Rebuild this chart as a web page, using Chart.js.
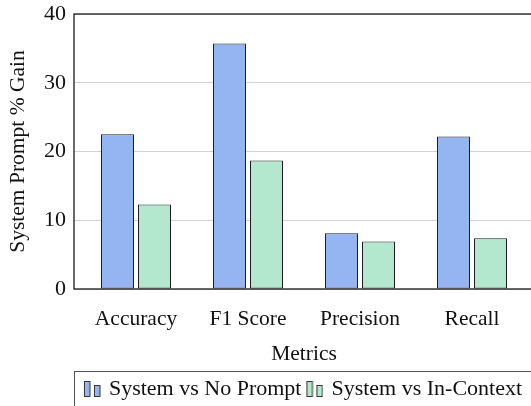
<!DOCTYPE html>
<html>
<head>
<meta charset="utf-8">
<script src="https://cdn.jsdelivr.net/npm/chart.js@4.4.1/dist/chart.umd.min.js"></script>
<style>
  html, body { margin: 0; padding: 0; background: #fff; overflow: hidden; width: 531px; height: 406px; }
  canvas { display: block; }
</style>
</head>
<body>
<canvas id="gainChart" width="608" height="410"></canvas>
<script>
// Metric categories and per-series gains (%)
const metrics = ['Accuracy', 'F1 Score', 'Precision', 'Recall'];
const seriesNames = ['System vs No Prompt', 'System vs In-Context'];
const noPromptGain = [22.5, 35.7, 8.1, 22.2];
const inContextGain = [12.3, 18.7, 6.9, 7.4];
const gainTicks = [0, 10, 20, 30, 40];

const BLUE = '#94b4f2';
const GREEN = '#b3e8cf';
const EDGE = '#1e1e1e';
const SERIF = '"Liberation Serif", "Times New Roman", serif';

// Small two-bar glyph used as legend marker (ybar legend style)
function barIcon(fill) {
  const c = document.createElement('canvas');
  c.width = 18; c.height = 16;
  const g = c.getContext('2d');
  g.fillStyle = fill;
  g.strokeStyle = '#333';
  g.lineWidth = 1;
  g.fillRect(1, 0.5, 6, 15); g.strokeRect(1.5, 0.5, 5.5, 15);
  g.fillRect(11, 4.5, 6, 11); g.strokeRect(11.5, 4.5, 5.5, 11);
  return c;
}
const legendIcons = [barIcon(BLUE), barIcon(GREEN)];

const toPoints = vals => vals.map((v, i) => ({ x: i, y: v }));

// Axis frame around the plot area and a box around the legend
const framePlugin = {
  id: 'frame',
  afterDatasetsDraw(chart) {
    const { ctx, chartArea: a } = chart;
    ctx.save();
    ctx.strokeStyle = '#1a1a1a';
    ctx.lineWidth = 1.3;
    ctx.strokeRect(a.left, a.top, a.right - a.left, a.bottom - a.top);
    ctx.restore();
  },
  afterDraw(chart) {
    const lg = chart.legend;
    if (!lg || !lg.lineWidths) return;
    const pad = lg.options.labels.padding;
    const cx = (lg.left + lg.right) / 2;
    const w = lg.lineWidths[0] - pad;
    const left = cx - w / 2 - 12;
    const right = cx + w / 2 + 11;
    const top = lg.top;
    const { ctx } = chart;
    ctx.save();
    ctx.strokeStyle = '#555';
    ctx.lineWidth = 1;
    ctx.strokeRect(Math.round(left) + 0.5, Math.round(top) + 0.5, Math.round(right - left), 80);
    ctx.restore();
  }
};

new Chart(document.getElementById('gainChart'), {
  type: 'bar',
  data: {
    datasets: [
      {
        label: seriesNames[0],
        data: toPoints(noPromptGain),
        backgroundColor: BLUE,
        borderColor: EDGE,
        borderWidth: 1,
        borderSkipped: false
      },
      {
        label: seriesNames[1],
        data: toPoints(inContextGain),
        backgroundColor: GREEN,
        borderColor: EDGE,
        borderWidth: 1,
        borderSkipped: false
      }
    ]
  },
  options: {
    responsive: false,
    animation: false,
    devicePixelRatio: 1,
    categoryPercentage: 74 / 112,
    barPercentage: 33 / 37,
    layout: { padding: { left: 0, right: 0, top: 14, bottom: 0 } },
    scales: {
      x: {
        type: 'linear',
        offset: false,
        min: -62 / 112,
        max: 3 + 62 / 112,
        afterFit(scale) { scale.height = 82; scale.paddingLeft = 0; scale.paddingRight = 0; },
        grid: { display: false, drawTicks: false },
        border: { display: false },
        ticks: {
          stepSize: 1,
          includeBounds: false,
          autoSkip: false,
          maxRotation: 0,
          padding: 17.5,
          color: '#111',
          font: { family: SERIF, size: 21.5, lineHeight: 1.2 },
          callback: v => (Number.isInteger(v) && metrics[v] !== undefined ? metrics[v] : '')
        },
        title: {
          display: true,
          text: 'Metrics',
          color: '#111',
          font: { family: SERIF, size: 21.5, lineHeight: 1.2 },
          padding: { top: 0, bottom: 3.4 }
        }
      },
      y: {
        min: gainTicks[0],
        max: gainTicks[gainTicks.length - 1],
        afterFit(scale) { scale.width = 74; scale.paddingTop = 0; scale.paddingBottom = 0; },
        afterBuildTicks(scale) { scale.ticks = gainTicks.map(v => ({ value: v })); },
        grid: { color: '#d2d2d2', lineWidth: 1, drawTicks: false },
        border: { display: false },
        ticks: {
          padding: 8,
          color: '#111',
          font: { family: SERIF, size: 22, lineHeight: 1.2 }
        },
        title: {
          display: true,
          text: 'System Prompt % Gain',
          color: '#111',
          font: { family: SERIF, size: 21.5, lineHeight: 1.2 },
          padding: { top: 5.3, bottom: 0 }
        }
      },
      // empty right-hand axis reserving the space to the right of the frame
      yRight: {
        type: 'linear',
        position: 'right',
        min: 0,
        max: 1,
        afterFit(scale) { scale.width = 74; scale.paddingTop = 0; scale.paddingBottom = 0; },
        grid: { display: false, drawTicks: false },
        border: { display: false },
        ticks: { display: false }
      }
    },
    plugins: {
      tooltip: { enabled: false },
      legend: {
        position: 'bottom',
        align: 'center',
        labels: {
          usePointStyle: true,
          pointStyleWidth: 12,
          padding: 7,
          color: '#111',
          font: { family: SERIF, size: 22, lineHeight: 1.2 },
          generateLabels(chart) {
            const items = Chart.defaults.plugins.legend.labels.generateLabels(chart);
            items.forEach((it, i) => { it.pointStyle = legendIcons[i]; });
            return items;
          }
        }
      }
    }
  },
  plugins: [framePlugin]
});
</script>
</body>
</html>
